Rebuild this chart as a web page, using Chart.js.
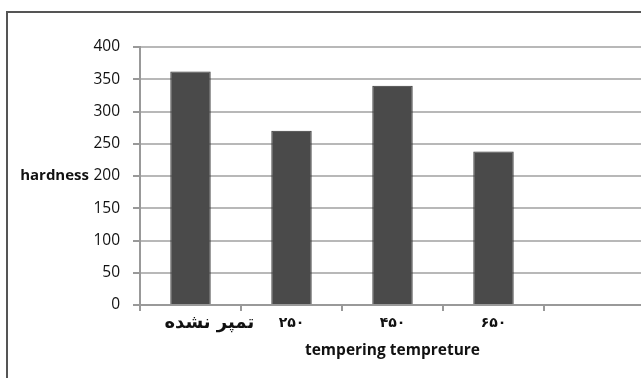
<!DOCTYPE html>
<html>
<head>
<meta charset="utf-8">
<script src="https://cdn.jsdelivr.net/npm/chart.js@4/dist/chart.umd.min.js"></script>
<style>
	html, body { margin: 0; padding: 0; background: #fff; overflow: hidden; }
	#frame {
		position: absolute; left: 6px; top: 11px; width: 700px; height: 400px;
		border-top: 2px solid #555; border-left: 2px solid #555;
	}
	#wrap { position: absolute; left: 0; top: 0; width: 645px; height: 378px; }
</style>
</head>
<body>
<div id="frame"></div>
<div id="wrap"><canvas id="myChart"></canvas></div>
<script>
const categories = ['      تمپر نشده', '۲۵۰', '۴۵۰', '۶۵۰', ''];
const hardness = [362, 270, 340, 238, null];
const yMin = 0;
const yMax = 400;
const yStep = 50;
const yTitle = 'hardness';
const xTitle = 'tempering tempreture';

const latin = '"Open Sans", "DejaVu Sans", sans-serif';
const persian = '"DejaVu Sans", "Noto Sans", sans-serif';

// y title sits horizontally beside the 200 tick, so draw it ourselves
const sideTitle = {
	id: 'sideTitle',
	afterDraw(chart) {
		const ctx = chart.ctx;
		const y = chart.scales.y.getPixelForValue(200);
		ctx.save();
		ctx.font = 'bold 15px ' + latin;
		ctx.fillStyle = '#111';
		ctx.textAlign = 'right';
		ctx.textBaseline = 'middle';
		ctx.fillText(yTitle, 89, y);
		ctx.restore();
	}
};

new Chart(document.getElementById('myChart'), {
	type: 'bar',
	data: {
		labels: categories,
		datasets: [{
			label: yTitle,
			data: hardness,
			backgroundColor: '#4a4a4a',
			borderColor: '#353535',
			borderWidth: 1,
			barPercentage: 0.4,
			categoryPercentage: 1
		}]
	},
	options: {
		responsive: true,
		maintainAspectRatio: false,
		animation: false,
		layout: { padding: { top: 47, right: 0, bottom: 13, left: 0 } },
		plugins: {
			legend: { display: false },
			tooltip: { enabled: false }
		},
		scales: {
			x: {
				afterFit: (scale) => { scale.height = 60; },
				grid: {
					drawOnChartArea: false,
					drawTicks: true,
					tickLength: 6,
					color: '#999',
					lineWidth: 2
				},
				border: { display: true, color: '#999', width: 2 },
				ticks: {
					color: '#111',
					padding: 2,
					maxRotation: 0,
					autoSkip: false,
					font: (c) => c.index === 0
						? { family: persian, size: 18, weight: 'bold', lineHeight: 1.2 }
						: { family: persian, size: 14, weight: 'bold', lineHeight: 1.55 }
				},
				title: {
					display: true,
					text: xTitle,
					color: '#111',
					font: { family: latin, size: 15.5, weight: 'bold' },
					padding: { top: 4, bottom: 5 }
				}
			},
			y: {
				min: yMin,
				max: yMax,
				afterFit: (scale) => { scale.width = 140; },
				grid: {
					color: '#b8b8b8',
					lineWidth: 2,
					tickLength: 7,
					tickColor: '#999'
				},
				border: { display: true, color: '#999', width: 2 },
				ticks: {
					stepSize: yStep,
					padding: 13,
					color: '#111',
					font: { family: latin, size: 15.5 }
				}
			}
		}
	},
	plugins: [sideTitle]
});
</script>
</body>
</html>
